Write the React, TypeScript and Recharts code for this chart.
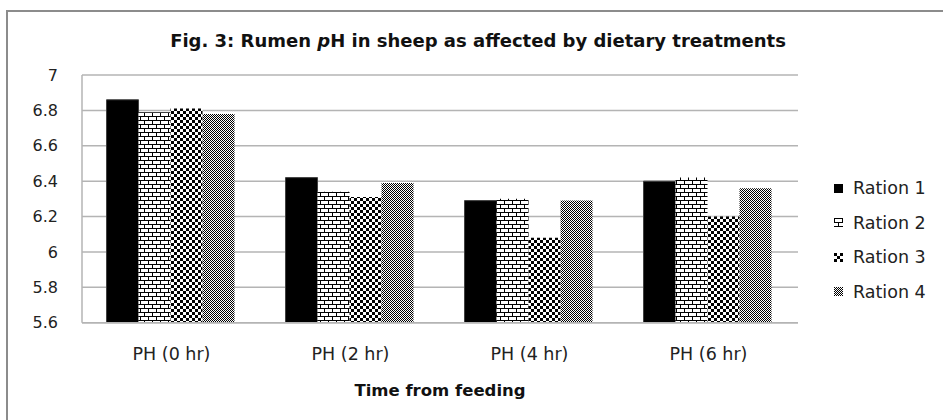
import { BarChart, Bar, XAxis, YAxis, CartesianGrid } from 'recharts';

const categories = ['PH (0 hr)', 'PH (2 hr)', 'PH (4 hr)', 'PH (6 hr)'];
const ration1 = [6.86, 6.42, 6.29, 6.40];
const ration2 = [6.79, 6.34, 6.30, 6.42];
const ration3 = [6.81, 6.31, 6.08, 6.20];
const ration4 = [6.78, 6.39, 6.29, 6.36];
const yTicks = [5.6, 5.8, 6, 6.2, 6.4, 6.6, 6.8, 7];
const seriesNames = ['Ration 1', 'Ration 2', 'Ration 3', 'Ration 4'];

const data = categories.map((c, i) => ({
  name: c,
  r1: ration1[i],
  r2: ration2[i],
  r3: ration3[i],
  r4: ration4[i],
}));

const fills = ['#000000', 'url(#brick)', 'url(#checkBig)', 'url(#checkSmall)'];
const keys = ['r1', 'r2', 'r3', 'r4'];
const font = '"DejaVu Sans", sans-serif';

function Patterns() {
  return (
    <svg width={0} height={0} style={{ position: 'absolute' }}>
      <defs>
        <pattern id="brick" width={8} height={8} patternUnits="userSpaceOnUse">
          <rect width={8} height={8} fill="#fff" />
          <rect x={0} y={0} width={8} height={1} fill="#000" />
          <rect x={0} y={4} width={8} height={1} fill="#000" />
          <rect x={0} y={0} width={1} height={4} fill="#000" />
          <rect x={4} y={4} width={1} height={4} fill="#000" />
        </pattern>
        <pattern id="checkBig" width={6} height={6} patternUnits="userSpaceOnUse">
          <rect width={6} height={6} fill="#fff" />
          <rect x={0} y={0} width={3} height={3} fill="#000" />
          <rect x={3} y={3} width={3} height={3} fill="#000" />
        </pattern>
        <pattern id="checkSmall" width={2} height={2} patternUnits="userSpaceOnUse">
          <rect width={2} height={2} fill="#fff" />
          <rect x={0} y={0} width={1} height={1} fill="#000" />
          <rect x={1} y={1} width={1} height={1} fill="#000" />
        </pattern>
      </defs>
    </svg>
  );
}

export default function App() {
  return (
    <div style={{ position: 'absolute', left: 0, top: 0, width: 943, height: 420, background: '#fff', overflow: 'hidden', fontFamily: font }}>
      <Patterns />
      {/* outer chart frame, only top and left edges fall inside the picture */}
      <div style={{ position: 'absolute', left: 6, top: 10, width: 960, height: 430, borderLeft: '2px solid #8c8c8c', borderTop: '2px solid #8c8c8c' }} />
      <div style={{ position: 'absolute', left: 0, top: 29, width: 956, textAlign: 'center', fontSize: 18, fontWeight: 'bold', color: '#111', whiteSpace: 'nowrap', lineHeight: '24px' }}>
        Fig. 3: Rumen <i>p</i>H in sheep as affected by dietary treatments
      </div>
      <div style={{ position: 'absolute', left: 0, top: 0 }}>
        <BarChart width={943} height={420} data={data} margin={{ top: 75, right: 145, left: 0, bottom: 17.3 }} barCategoryGap="13.7%" barGap={0}>
          <CartesianGrid vertical={false} stroke="#b4b4b4" strokeWidth={1.5} />
          <YAxis
            domain={[5.6, 7]}
            ticks={yTicks}
            allowDataOverflow
            width={82}
            tickLine={false}
            tickSize={0}
            tickMargin={24}
            axisLine={{ stroke: '#b4b4b4', strokeWidth: 1.5 }}
            tickFormatter={(v: number) => String(+v.toFixed(1))}
            tick={{ fill: '#222', fontSize: 16, fontFamily: font }}
          />
          <XAxis
            dataKey="name"
            height={80}
            tickLine={false}
            tickSize={0}
            tickMargin={25}
            axisLine={{ stroke: '#b4b4b4', strokeWidth: 1.5 }}
            tick={{ fill: '#222', fontSize: 17.5, fontFamily: font }}
            label={{ value: 'Time from feeding', position: 'insideBottom', offset: 6.7, fill: '#111', fontSize: 16.5, fontWeight: 'bold', fontFamily: font }}
          />
          {keys.map((k, i) => (
            <Bar
              key={k}
              dataKey={k}
              name={seriesNames[i]}
              fill={fills[i]}
              stroke={i === 0 ? '#404040' : 'none'}
              strokeWidth={1}
              isAnimationActive={false}
            />
          ))}
        </BarChart>
      </div>
      <div style={{ position: 'absolute', left: 834, top: 171 }}>
        {seriesNames.map((n, i) => (
          <div key={n} style={{ display: 'flex', alignItems: 'center', height: 34.5, fontSize: 17.5, color: '#222', whiteSpace: 'nowrap' }}>
            <svg width={9} height={9} style={{ marginRight: 10 }}>
              <rect width={9} height={9} fill={fills[i]} />
            </svg>
            {n}
          </div>
        ))}
      </div>
    </div>
  );
}
